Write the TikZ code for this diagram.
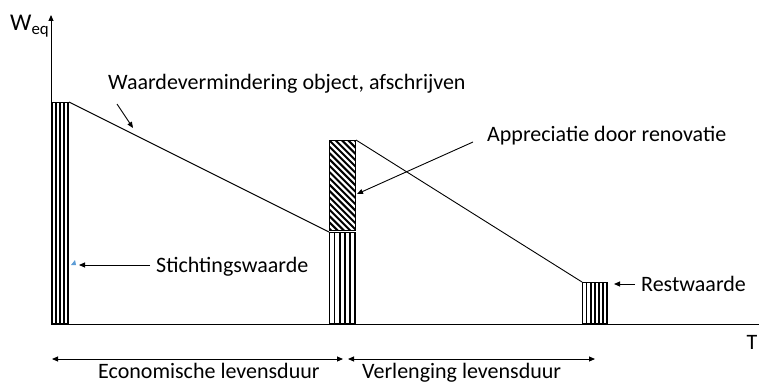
\documentclass[tikz,border=0pt]{standalone}
\usepackage{fontspec}
\setmainfont{Carlito}
\usetikzlibrary{arrows.meta,positioning}
\definecolor{markblue}{RGB}{92,156,214}

\begin{document}
\begin{tikzpicture}[x=1pt,y=-1pt,
  lbl/.style={inner sep=0,font=\fontsize{22}{26}\selectfont},
  vbar/.style={draw,line width=1,inner sep=0,anchor=south west,
    path picture={\foreach \k in {0,...,12}
      \draw[line width=1.7] ([xshift=\k*#1]path picture bounding box.south west)
        -- ([xshift=\k*#1]path picture bounding box.north west);}},
  hbar/.style={draw,line width=1,inner sep=0,anchor=south west,
    path picture={\foreach \k in {-15,...,5}
      \draw[line width=2] ([yshift=\k*6.3]path picture bounding box.north west) -- ++(40,40);}},
  pointer/.style={-{Triangle[length=6,width=5]},line width=0.9},
  span/.style={{Triangle[length=6,width=5]}-{Triangle[length=6,width=5]},line width=0.9}
]
  \useasboundingbox (0,0) rectangle (759,385);

  % axes
  \coordinate (origin) at (51,324);
  \coordinate (ytop) at (51,15);
  \coordinate (xend) at (759,324);
  \draw[-{Triangle[length=6,width=5]},line width=0.9] (origin) -- (ytop);
  \draw[line width=0.9] (origin) -- (xend);
  \node[lbl,anchor=base west,font=\fontsize{24}{28}\selectfont] (weq) at (10,31) {W\textsubscript{eq}};
  \node[lbl,anchor=base] (tlab) at (752,349) {T};

  % bars
  \node[vbar=3.8,minimum width=16,minimum height=221] (found) at (52,324) {};
  \node[vbar=5.1,minimum width=26,minimum height=91] (renlow) at (329,324) {};
  \node[hbar,minimum width=26,minimum height=90] (renup) at (329,231) {};
  \node[vbar=4.1,minimum width=25,minimum height=41] (rest) at (582,324) {};

  % value lines
  \draw[line width=0.9] (found.north east) -- (renlow.north west);
  \draw[line width=0.9] (renup.north east) -- (rest.north west);

  % labels
  \node[lbl,anchor=base west] (afschr) at (108,89) {Waardevermindering object, afschrijven};
  \node[lbl,anchor=base west] (appr) at (487,141) {Appreciatie door renovatie};
  \node[lbl,anchor=base west] (stichting) at (156,272) {Stichtingswaarde};
  \node[lbl,anchor=base west] (restlab) at (641,291) {Restwaarde};

  \coordinate (afschrtail) at (117,104);
  \coordinate (afschrtip) at (133,128);
  \coordinate (apprtail) at (473,142);
  \coordinate (apprtip) at (357,194);
  \coordinate (stichtail) at (150,265);
  \coordinate (stichtip) at (79,265);
  \coordinate (resttail) at (635,284);
  \coordinate (resttip) at (614,284);
  \draw[pointer] (afschrtail) -- (afschrtip);
  \draw[pointer] (apprtail) -- (apprtip);
  \draw[pointer] (stichtail) -- (stichtip);
  \draw[pointer] (resttail) -- (resttip);
  \fill[markblue] (71,265) -- (75,260) -- (76,265) -- cycle;

  % life spans
  \coordinate (ecostart) at (52,359);
  \coordinate (ecoend) at (343,359);
  \coordinate (verstart) at (348,359);
  \coordinate (verend) at (595,359);
  \draw[span] (ecostart) -- (ecoend);
  \draw[span] (verstart) -- (verend);
  \node[lbl,anchor=base west] (eco) at (98,378) {Economische levensduur};
  \node[lbl,anchor=base west] (verl) at (362,378) {Verlenging levensduur};
\end{tikzpicture}
\end{document}
